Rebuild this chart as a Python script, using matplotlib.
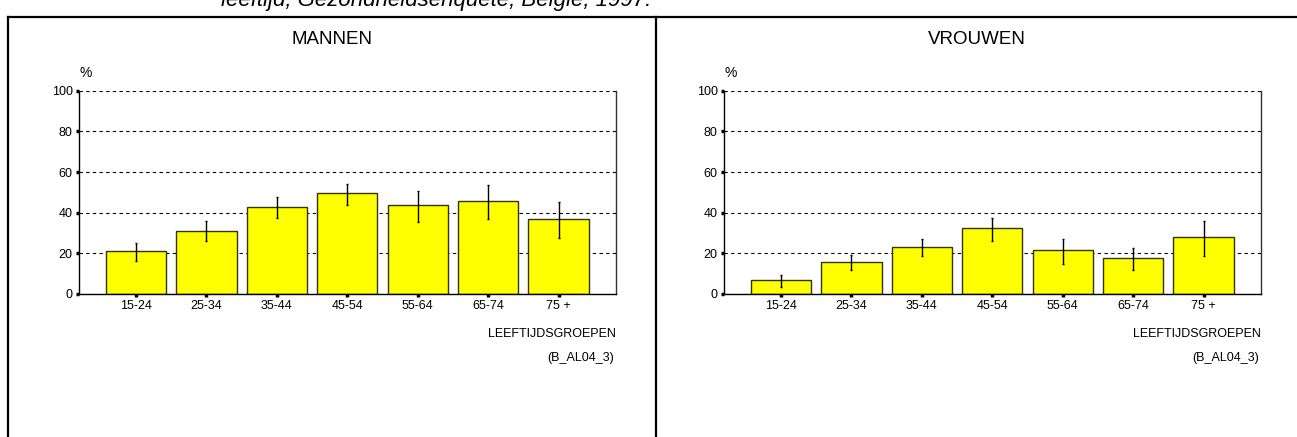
import matplotlib
matplotlib.use('Agg')

import numpy as np
import matplotlib.pyplot as plt
from matplotlib.lines import Line2D

plt.rcParams['font.family'] = ['Liberation Sans', 'DejaVu Sans']

# leeftijdsgroepen
groepen = ['15-24', '25-34', '35-44', '45-54', '55-64', '65-74', '75 +']

# mannen: percentage + betrouwbaarheidsinterval
mannen = [21.0, 31.1, 42.6, 49.5, 43.8, 45.7, 36.8]
mannen_laag = [16.3, 26.2, 37.3, 43.9, 35.5, 37.0, 27.6]
mannen_hoog = [25.2, 36.0, 47.5, 54.3, 50.8, 53.8, 45.4]

# vrouwen
vrouwen = [7.1, 15.5, 22.9, 32.6, 21.7, 17.8, 28.0]
vrouwen_laag = [3.5, 11.8, 18.8, 26.3, 14.8, 12.0, 18.8]
vrouwen_hoog = [9.4, 19.2, 27.1, 37.5, 27.1, 22.7, 36.0]

W, H = 1297, 437
fig = plt.figure(figsize=(W / 100, H / 100), dpi=100)


def px(x, y):
    # pixel (van linksboven) -> figuurcoordinaten
    return x / W, 1 - y / H


def paneel(x0, titel, waarden, laag, hoog):
    ax_l, ax_r, ax_t, ax_b = x0, x0 + 537, 90.7, 294
    ax = fig.add_axes([ax_l / W, 1 - ax_b / H, (ax_r - ax_l) / W, (ax_b - ax_t) / H])
    x = np.arange(len(groepen))
    w = np.array(waarden)
    fout = [w - np.array(laag), np.array(hoog) - w]
    ax.bar(x, w, width=0.855, color='#FFFF00', edgecolor='#333300', linewidth=1.0, zorder=2)
    ax.errorbar(x, w, yerr=fout, fmt='none', ecolor='black', elinewidth=1.0,
                capsize=1, capthick=1.0, zorder=3)
    ax.set_xlim(-0.81, 6.815)
    ax.set_ylim(0, 100)
    ax.set_yticks([0, 20, 40, 60, 80, 100])
    ax.set_xticks(x)
    ax.set_xticklabels(groepen)
    ax.tick_params(axis='both', length=2.5, width=2.5, direction='out', labelsize=9, pad=2)
    ax.yaxis.grid(True, linestyle=(0, (3, 3)), color='black', linewidth=0.8, zorder=0)
    ax.set_axisbelow(True)
    ax.spines['top'].set_visible(False)
    for s in ['left', 'bottom', 'right']:
        ax.spines[s].set_linewidth(1.0)
    ax.spines['right'].set_color('#333333')

    # titels en labels
    cx = (x0 - 71 + x0 + 577) / 2
    fig.text(*px(cx, 40), titel, ha='center', va='center', fontsize=13.5)
    fig.text(*px(x0 + 7, 73), '%', ha='center', va='center', fontsize=10)
    fig.text(*px(ax_r, 334), 'LEEFTIJDSGROEPEN', ha='right', va='center', fontsize=9)
    fig.text(*px(ax_r - 2, 358), '(B_AL04_3)', ha='right', va='center', fontsize=9)
    return ax


paneel(79, 'MANNEN', mannen, mannen_laag, mannen_hoog)
paneel(724, 'VROUWEN', vrouwen, vrouwen_laag, vrouwen_hoog)

# kader
lijnen = [((8, 1297), (17, 17)), ((8, 8), (17, 437)), ((656, 656), (17, 437))]
for xs, ys in lijnen:
    fx = [v / W for v in xs]
    fy = [1 - v / H for v in ys]
    fig.add_artist(Line2D(fx, fy, color='black', linewidth=1.6))

# afgesneden titel bovenaan
fig.text(*px(436, 6), 'leeftijd, Gezondheidsenquête, België, 1997.', ha='center',
         va='baseline', fontsize=16, style='italic')

fig.savefig('out.png', dpi=100)
